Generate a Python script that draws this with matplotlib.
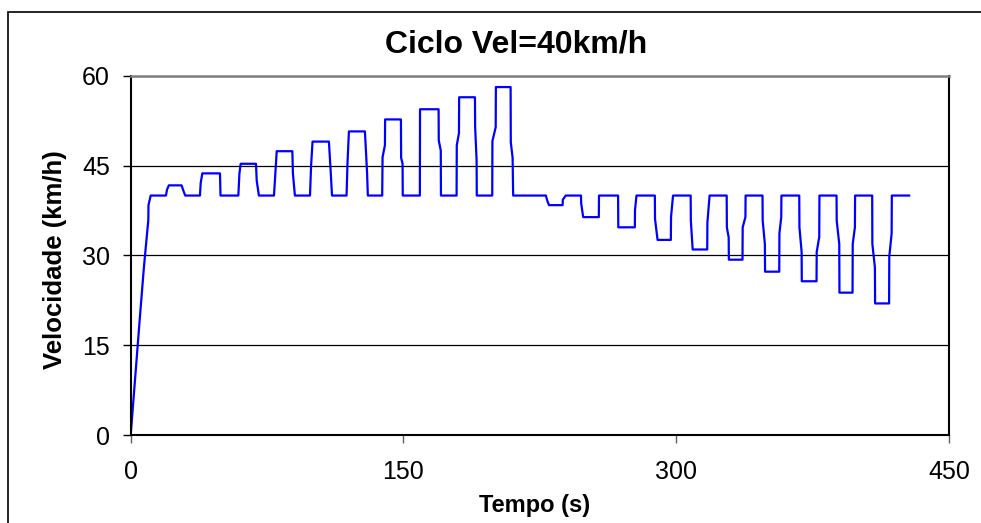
import matplotlib
matplotlib.use("Agg")
import matplotlib.pyplot as plt
from matplotlib.patches import Rectangle

plt.rcParams['font.family'] = ['Liberation Sans', 'DejaVu Sans']

# dados (tempo em s, velocidade em km/h)
tempo = [0, 5.1, 7.3, 9.7, 9.8, 11, 19.4, 20, 21, 28, 29, 30,
         38.1, 38.5, 39.4, 49.1, 49.4, 59.2, 59.8, 60.5, 68.9, 69.3, 70.5,
         78.8, 79.6, 80.3, 88.9, 89.2, 90.3, 98.6, 99.2, 100, 109, 110, 110.7,
         118.7, 119.2, 120, 128.8, 130, 130.4, 138.3, 138.5, 139.8, 139.9,
         148.6, 148.7, 149.5, 149.6, 159, 159.1, 169.3, 169.4, 170.5, 170.6,
         179.2, 179.3, 180.5, 180.6, 189.3, 189.4, 190.2, 190.3, 198.8, 198.9,
         200.7, 200.8, 208.9, 209.0, 210, 210.3, 228.3, 229, 230, 237.5, 237.6,
         239.2, 247.6, 247.7, 248.8, 257.4, 257.5, 268, 268.1, 277.2, 277.3,
         278.1, 288.2, 288.3, 289.7, 297, 297.1, 298.2, 307.9, 308, 309, 317,
         317.1, 318.3, 327.7, 327.8, 328.8, 328.9, 336.4, 336.5, 338, 338.1,
         347.4, 347.5, 348.7, 348.8, 356.6, 356.7, 357.7, 357.8, 367.6, 367.7,
         368.9, 369, 377.1, 377.2, 378.6, 378.7, 388.1, 388.2, 389.6, 389.7,
         396.9, 397, 398.2, 398.3, 407.7, 407.8, 409.2, 409.3, 417, 417.1,
         418.4, 418.5, 428]
velocidade = [0, 19.8, 28.1, 35.9, 38.4, 40, 40, 41, 41.7, 41.7, 40.8, 40,
              40, 42.1, 43.7, 43.7, 40, 40, 43.7, 45.3, 45.3, 42.5, 40,
              40, 44.1, 47.4, 47.4, 43.7, 40, 40, 45.0, 49.0, 49.0, 43.9, 40,
              40, 45.3, 50.7, 50.7, 43.7, 40, 40, 46.4, 48.4, 52.7,
              52.7, 46.3, 45.3, 40, 40, 54.4, 54.4, 49.2, 47.5, 40,
              40, 48.4, 50.4, 56.4, 56.4, 51.4, 45.9, 40, 40, 49.1,
              51.4, 58.1, 58.1, 48.9, 46.3, 40, 40, 39.2, 38.4, 38.4, 39.3,
              40, 40, 38.7, 36.4, 36.4, 40, 40, 34.7, 34.7, 37.6,
              40, 40, 36.1, 32.6, 32.6, 36.4, 40, 40, 35.8, 31, 31,
              35.5, 40, 40, 34.7, 33.0, 29.3, 29.3, 34.7, 36.4, 40,
              40, 35.8, 31.9, 27.3, 27.3, 33.7, 36.4, 40, 40, 34.7,
              30.6, 25.7, 25.7, 30.6, 33.1, 40, 40, 35.8, 31.9, 23.8,
              23.8, 31.9, 34.7, 40, 40, 31.9, 28.0, 22.0, 22, 29.8,
              33.7, 40, 40]

xticks = [0, 150, 300, 450]
yticks = [0, 15, 30, 45, 60]

fig = plt.figure(figsize=(9.81, 5.23), dpi=100)
ax = fig.add_axes([0.1332, 0.1677, 0.8343, 0.6876])

ax.plot(tempo, velocidade, color='#0000ff', lw=1.6)

ax.set_xlim(0, 450)
ax.set_ylim(0, 60)
ax.set_xticks(xticks)
ax.set_yticks(yticks)
ax.yaxis.grid(True, color='black', lw=0.9)
ax.set_axisbelow(True)

for s in ['left', 'bottom', 'right']:
    ax.spines[s].set_color('black')
    ax.spines[s].set_linewidth(1.5)
ax.spines['top'].set_color('#808080')
ax.spines['top'].set_linewidth(1.8)

ax.tick_params(axis='x', direction='out', length=6, width=1, colors='#606060',
               labelcolor='black', labelsize=18, pad=12)
ax.tick_params(axis='y', direction='out', length=6, width=1, colors='black',
               labelsize=18, pad=9)

ax.set_xlabel('Tempo (s)', fontsize=17, fontweight='bold')
ax.set_ylabel('Velocidade (km/h)', fontsize=18.5, fontweight='bold')
ax.xaxis.set_label_coords(0.4935, -0.163)
ax.yaxis.set_label_coords(-0.078, 0.4875)

fig.text(0.526, 0.899, 'Ciclo Vel=40km/h', ha='center', va='baseline',
         fontsize=23, fontweight='bold')

# moldura externa do gráfico
fig.patches.append(Rectangle((8 / 981, -0.05), 1.1, 1 - 12 / 523 + 0.05,
                             transform=fig.transFigure, fill=False,
                             edgecolor='black', lw=1.2, clip_on=False))

fig.savefig('out.png', dpi=100)
